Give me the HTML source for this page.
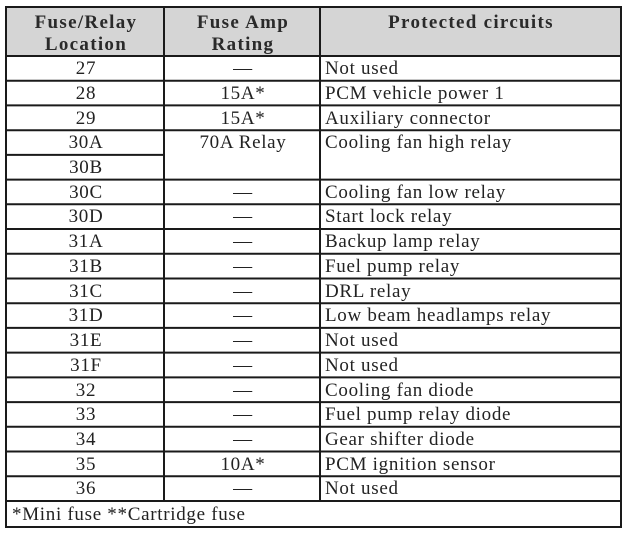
<!DOCTYPE html>
<html><head><style>
html,body{margin:0;padding:0;background:#fff;}
svg{display:block;}
text{font-family:"Liberation Serif",serif;font-size:19px;fill:#222;letter-spacing:0.7px;}
.h{font-weight:bold;font-size:19px;fill:#2a2a2a;letter-spacing:1.3px;}
</style></head><body>
<svg width="628" height="538" viewBox="0 0 628 538">
<rect x="6" y="7" width="615" height="49" fill="#d5d5d5"/>
<g stroke="#1a1a1a" stroke-width="2" fill="none">
<rect x="6" y="7" width="615" height="520"/>
<line x1="6" y1="56" x2="621" y2="56"/>
<line x1="164" y1="7" x2="164" y2="501"/>
<line x1="320" y1="7" x2="320" y2="501"/>
<line x1="6" y1="80.7" x2="621" y2="80.7"/>
<line x1="6" y1="105.4" x2="621" y2="105.4"/>
<line x1="6" y1="130.2" x2="621" y2="130.2"/>
<line x1="6" y1="154.9" x2="164" y2="154.9"/>
<line x1="6" y1="179.6" x2="621" y2="179.6"/>
<line x1="6" y1="204.3" x2="621" y2="204.3"/>
<line x1="6" y1="229.0" x2="621" y2="229.0"/>
<line x1="6" y1="253.8" x2="621" y2="253.8"/>
<line x1="6" y1="278.5" x2="621" y2="278.5"/>
<line x1="6" y1="303.2" x2="621" y2="303.2"/>
<line x1="6" y1="327.9" x2="621" y2="327.9"/>
<line x1="6" y1="352.6" x2="621" y2="352.6"/>
<line x1="6" y1="377.4" x2="621" y2="377.4"/>
<line x1="6" y1="402.1" x2="621" y2="402.1"/>
<line x1="6" y1="426.8" x2="621" y2="426.8"/>
<line x1="6" y1="451.5" x2="621" y2="451.5"/>
<line x1="6" y1="476.2" x2="621" y2="476.2"/>
<line x1="6" y1="501" x2="621" y2="501"/>
</g>
<g text-anchor="middle">
<text class="h" x="86" y="28">Fuse/Relay</text>
<text class="h" x="86" y="50">Location</text>
<text class="h" x="243" y="28">Fuse Amp</text>
<text class="h" x="243" y="50">Rating</text>
<text class="h" x="471" y="28">Protected circuits</text>
</g>
<g text-anchor="middle">
<text x="86" y="74">27</text><text x="243" y="74">—</text>
<text x="86" y="99">28</text><text x="243" y="99">15A*</text>
<text x="86" y="124">29</text><text x="243" y="124">15A*</text>
<text x="86" y="148">30A</text><text x="243" y="148">70A Relay</text>
<text x="86" y="173">30B</text>
<text x="86" y="198">30C</text><text x="243" y="198">—</text>
<text x="86" y="222">30D</text><text x="243" y="222">—</text>
<text x="86" y="247">31A</text><text x="243" y="247">—</text>
<text x="86" y="272">31B</text><text x="243" y="272">—</text>
<text x="86" y="297">31C</text><text x="243" y="297">—</text>
<text x="86" y="321">31D</text><text x="243" y="321">—</text>
<text x="86" y="346">31E</text><text x="243" y="346">—</text>
<text x="86" y="371">31F</text><text x="243" y="371">—</text>
<text x="86" y="396">32</text><text x="243" y="396">—</text>
<text x="86" y="420">33</text><text x="243" y="420">—</text>
<text x="86" y="445">34</text><text x="243" y="445">—</text>
<text x="86" y="470">35</text><text x="243" y="470">10A*</text>
<text x="86" y="494">36</text><text x="243" y="494">—</text>
</g>
<g>
<text x="325" y="74">Not used</text>
<text x="325" y="99">PCM vehicle power 1</text>
<text x="325" y="124">Auxiliary connector</text>
<text x="325" y="148">Cooling fan high relay</text>
<text x="325" y="198">Cooling fan low relay</text>
<text x="325" y="222">Start lock relay</text>
<text x="325" y="247">Backup lamp relay</text>
<text x="325" y="272">Fuel pump relay</text>
<text x="325" y="297">DRL relay</text>
<text x="325" y="321">Low beam headlamps relay</text>
<text x="325" y="346">Not used</text>
<text x="325" y="371">Not used</text>
<text x="325" y="396">Cooling fan diode</text>
<text x="325" y="420">Fuel pump relay diode</text>
<text x="325" y="445">Gear shifter diode</text>
<text x="325" y="470">PCM ignition sensor</text>
<text x="325" y="494">Not used</text>
<text x="12" y="520">*Mini fuse **Cartridge fuse</text>
</g>
</svg>
</body></html>
